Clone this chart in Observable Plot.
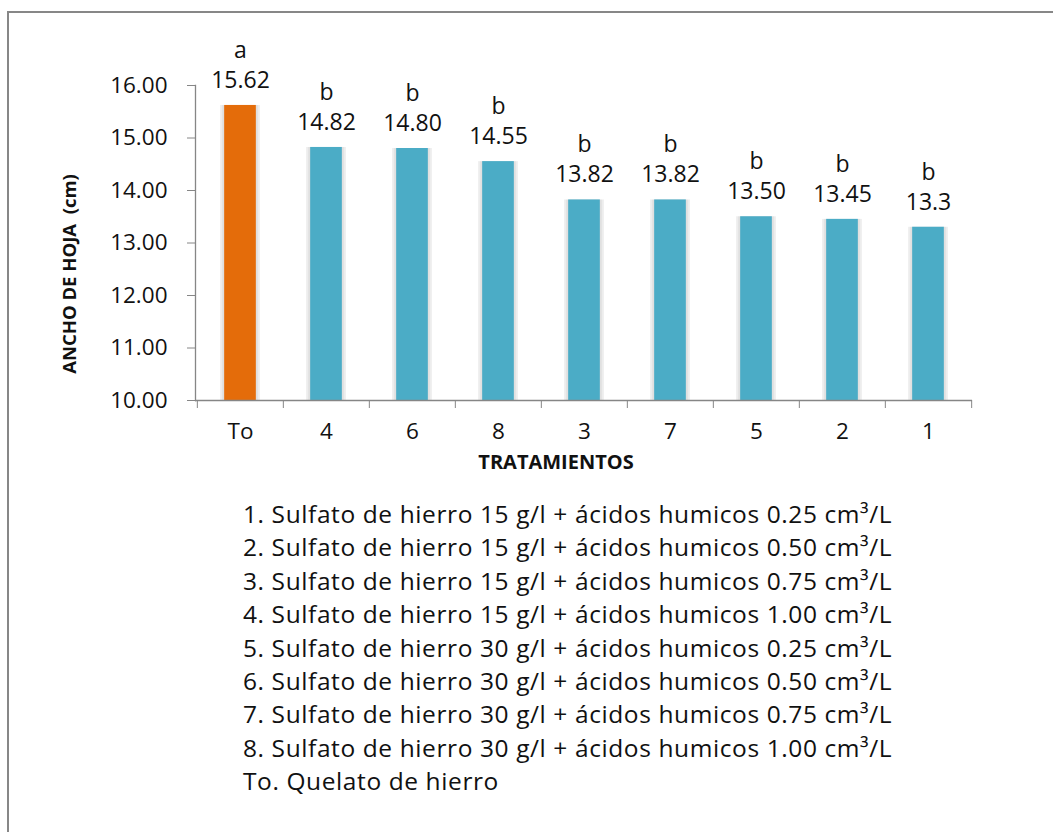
<!DOCTYPE html>
<html>
<head>
<meta charset="utf-8">
<script src="https://cdn.jsdelivr.net/npm/d3@7"></script>
<script src="https://cdn.jsdelivr.net/npm/@observablehq/plot@0.6"></script>
<style>
  html, body { margin: 0; padding: 0; background: #fff; }
  #wrap { position: relative; width: 1053px; height: 832px; overflow: hidden; font-family: "Open Sans", sans-serif; }
  #frame { position: absolute; left: 7px; top: 11px; width: 1200px; height: 1000px; border-top: 2px solid #878787; border-left: 2px solid #878787; box-sizing: border-box; }
  #chart { position: absolute; left: 0; top: 0; }
  #legend { position: absolute; left: 243px; top: 497px; font-size: 24.5px; letter-spacing: 0.6px; line-height: 33.4px; color: #111; white-space: nowrap; }
</style>
</head>
<body>
<div id="wrap">
  <div id="frame"></div>
  <div id="chart"></div>
  <div id="legend"></div>
</div>
<script>
const categories = ["To", "4", "6", "8", "3", "7", "5", "2", "1"];
const values = [15.62, 14.82, 14.80, 14.55, 13.82, 13.82, 13.50, 13.45, 13.3];
const valueLabels = ["15.62", "14.82", "14.80", "14.55", "13.82", "13.82", "13.50", "13.45", "13.3"];
const groups = ["a", "b", "b", "b", "b", "b", "b", "b", "b"];
const yTicks = [10, 11, 12, 13, 14, 15, 16];
const legendLines = [
  "1. Sulfato de hierro 15 g/l + ácidos humicos 0.25 cm³/L",
  "2. Sulfato de hierro 15 g/l + ácidos humicos 0.50 cm³/L",
  "3. Sulfato de hierro 15 g/l + ácidos humicos 0.75 cm³/L",
  "4. Sulfato de hierro 15 g/l + ácidos humicos 1.00 cm³/L",
  "5. Sulfato de hierro 30 g/l + ácidos humicos 0.25 cm³/L",
  "6. Sulfato de hierro 30 g/l + ácidos humicos 0.50 cm³/L",
  "7. Sulfato de hierro 30 g/l + ácidos humicos 0.75 cm³/L",
  "8. Sulfato de hierro 30 g/l + ácidos humicos 1.00 cm³/L",
  "To. Quelato de hierro"
];
const yLabel = "ANCHO DE HOJA\u00a0\u00a0(cm)";
const xLabel = "TRATAMIENTOS";

const data = categories.map((c, i) => ({cat: c, value: values[i], label: valueLabels[i], group: groups[i], color: c === "To" ? "#E46C0A" : "#4BACC6"}));

const W = 1053, H = 480, ML = 195, MR = 81, MT = 85, MB = 80;
const step = (W - ML - MR) / categories.length;
const barW = 32;
const inset = (step - barW) / 2;
const axisColor = "#868686";

const chart = Plot.plot({
  width: W, height: H,
  marginLeft: ML, marginRight: MR, marginTop: MT, marginBottom: MB,
  style: {fontFamily: "Open Sans, sans-serif", fontSize: "22px", color: "#111", background: "transparent", overflow: "visible"},
  x: {domain: categories, padding: 0},
  y: {domain: [10, 16]},
  marks: [
    // bar shadows
    Plot.barY(data, {x: "cat", y1: 10, y2: "value", fill: "#000", fillOpacity: 0.07, insetLeft: inset - 4, insetRight: inset - 4}),
    Plot.barY(data, {x: "cat", y1: 10, y2: "value", fill: "#000", fillOpacity: 0.05, insetLeft: inset - 2, insetRight: inset - 2}),
    Plot.barY(data, {x: "cat", y1: 10, y2: "value", fill: "color", insetLeft: inset, insetRight: inset}),
    // axes
    Plot.axisY({ticks: yTicks, tickFormat: d3.format(".2f"), tickSize: 8, tickPadding: 20, stroke: axisColor, label: null, fontSize: 22.5}),
    Plot.axisX({tickSize: 0, tickPadding: 23, label: null, fontSize: 22.5}),
    Plot.axisX({tickSize: 8, tickFormat: null, dx: -step / 2, stroke: axisColor, label: null}),
    Plot.axisX({ticks: [categories[categories.length - 1]], tickSize: 8, tickFormat: null, dx: step / 2, stroke: axisColor, label: null}),
    Plot.ruleY([10], {stroke: axisColor, strokeWidth: 1.3}),
    Plot.frame({anchor: "left", stroke: axisColor, strokeWidth: 1.3}),
    // labels
    Plot.text(data, {x: "cat", y: "value", text: "label", dy: -25, fontSize: 23}),
    Plot.text(data, {x: "cat", y: "value", text: "group", dy: -55, fontSize: 23}),
    // axis titles
    Plot.text([yLabel], {frameAnchor: "left", textAnchor: "middle", dx: -125, dy: 31, rotate: -90, fontWeight: "bold", fontSize: 18.5, letterSpacing: "0.6px"}),
    Plot.text([xLabel], {frameAnchor: "bottom", dx: -28, dy: 68, fontWeight: "bold", fontSize: 20, letterSpacing: "1.5px"})
  ]
});
document.getElementById("chart").appendChild(chart);

const legend = document.getElementById("legend");
legendLines.forEach(t => {
  const d = document.createElement("div");
  d.textContent = t;
  legend.appendChild(d);
});
</script>
</body>
</html>
